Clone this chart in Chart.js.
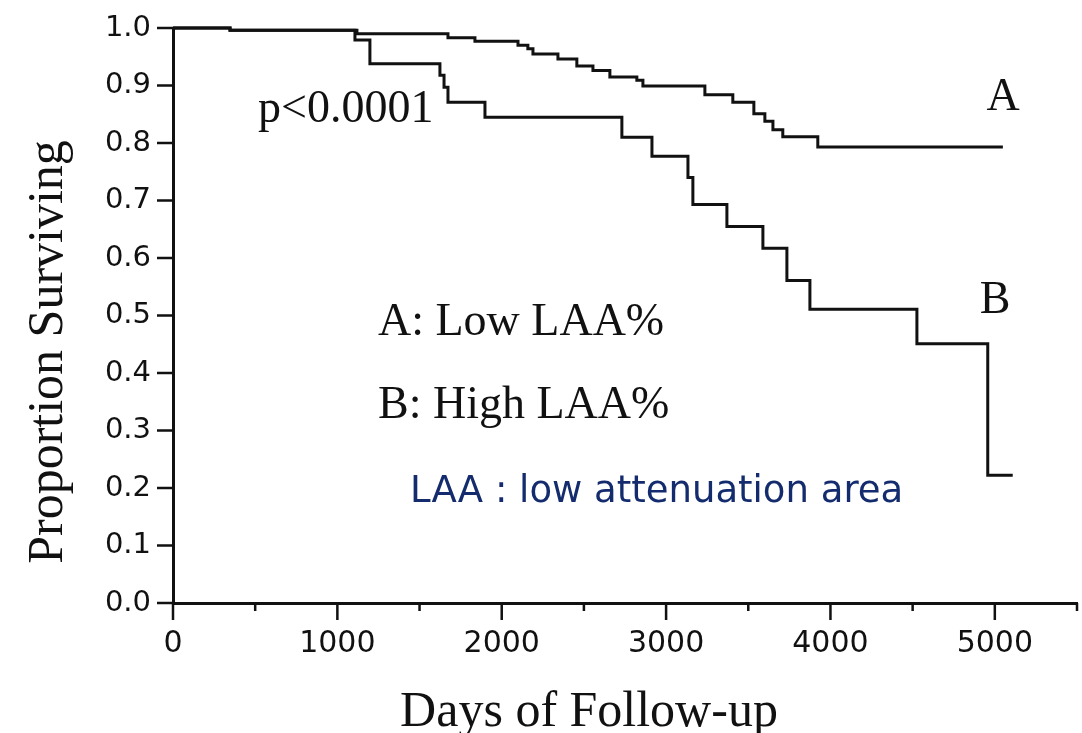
<!DOCTYPE html>
<html lang="en">
<head>
    <meta charset="UTF-8">
    <title>Proportion Surviving - LAA%</title>
    <script src="https://cdn.jsdelivr.net/npm/chart.js"></script>
    <style>
        body { margin: 0; background: #fff; }
        #chart { display: block; }
    </style>
</head>
<body>
    <canvas id="chart" width="1082" height="733"></canvas>

    <script>
        // Kaplan-Meier steps: day of each drop, survival after it
        const daysA = [0, 347, 1119, 1673, 1837, 2099, 2159, 2190, 2342, 2457, 2555, 2658, 2822, 2859, 3236, 3406, 3534, 3601, 3650, 3710, 3923, 5049];
        const survA = [1.0, 0.996, 0.99, 0.983, 0.977, 0.970, 0.964, 0.955, 0.946, 0.934, 0.926, 0.915, 0.909, 0.899, 0.884, 0.871, 0.851, 0.838, 0.823, 0.811, 0.793, 0.793];

        const daysB = [0, 347, 1107, 1198, 1624, 1649, 1673, 1898, 2731, 2914, 3133, 3163, 3370, 3589, 3735, 3875, 4526, 4957, 5109];
        const survB = [1.0, 0.996, 0.979, 0.938, 0.918, 0.897, 0.871, 0.845, 0.81, 0.777, 0.74, 0.693, 0.655, 0.617, 0.561, 0.511, 0.451, 0.222, 0.222];

        const xTitle = 'Days of Follow-up';
        const yTitle = 'Proportion Surviving';

        const ink = '#111';
        const serif = "'Liberation Serif', 'Times New Roman', serif";

        const toPoints = (xs, ys) => xs.map((d, i) => ({ x: d, y: ys[i] }));

        // tick marks, axis titles and the text notes on the plot
        const extras = {
            id: 'extras',
            afterDraw(chart) {
                const { ctx } = chart;
                const x = chart.scales.x, y = chart.scales.y;
                ctx.save();
                ctx.strokeStyle = ink;
                ctx.lineWidth = 2.5;
                ctx.beginPath();
                x.ticks.forEach(t => {
                    const px = x.getPixelForValue(t.value);
                    const len = t.value % 1000 === 0 ? 17 : 8;
                    ctx.moveTo(px, y.bottom);
                    ctx.lineTo(px, y.bottom + len);
                });
                y.ticks.forEach(t => {
                    const py = y.getPixelForValue(t.value);
                    ctx.moveTo(x.left - 16, py);
                    ctx.lineTo(x.left, py);
                });
                ctx.stroke();

                ctx.fillStyle = ink;
                ctx.textBaseline = 'alphabetic';

                ctx.font = '50px ' + serif;
                ctx.textAlign = 'center';
                ctx.fillText(xTitle, 589, 726);
                ctx.save();
                ctx.translate(62, 352);
                ctx.rotate(-Math.PI / 2);
                ctx.fillText(yTitle, 0, 0);
                ctx.restore();

                ctx.font = '46px ' + serif;
                ctx.textAlign = 'left';
                ctx.fillText('p<0.0001', 258, 122);
                ctx.fillText('A: Low LAA%', 378, 335);
                ctx.fillText('B: High LAA%', 378, 418);
                ctx.textAlign = 'center';
                ctx.fillText('A', 1003, 110);
                ctx.fillText('B', 995, 313);

                ctx.font = "37px 'DejaVu Sans', Verdana, sans-serif";
                ctx.fillStyle = '#142c6e';
                ctx.textAlign = 'left';
                ctx.fillText('LAA : low attenuation area', 410, 502);
                ctx.restore();
            }
        };

        new Chart(document.getElementById('chart'), {
            type: 'line',
            data: {
                datasets: [
                    {
                        label: 'A: Low LAA%',
                        data: toPoints(daysA, survA),
                        borderColor: ink,
                        borderWidth: 3,
                        pointRadius: 0,
                        stepped: 'before',
                        fill: false,
                        clip: false
                    },
                    {
                        label: 'B: High LAA%',
                        data: toPoints(daysB, survB),
                        borderColor: ink,
                        borderWidth: 3,
                        pointRadius: 0,
                        stepped: 'before',
                        fill: false,
                        clip: false
                    }
                ]
            },
            options: {
                responsive: false,
                animation: false,
                devicePixelRatio: 1,
                layout: { padding: { top: 28, right: 5, left: 0, bottom: 0 } },
                plugins: {
                    legend: { display: false },
                    tooltip: { enabled: false }
                },
                scales: {
                    x: {
                        type: 'linear',
                        min: 0,
                        max: 5500,
                        afterFit: s => {
                            s.height = 130;
                            s.paddingLeft = 0;
                            s.paddingRight = 0;
                        },
                        grid: { display: false, drawTicks: false },
                        border: { display: true, color: ink, width: 3 },
                        ticks: {
                            stepSize: 500,
                            autoSkip: false,
                            maxRotation: 0,
                            padding: 23,
                            color: ink,
                            font: { family: "'DejaVu Sans'", size: 30 },
                            callback: v => (v % 1000 === 0 ? String(v) : '')
                        }
                    },
                    y: {
                        min: 0,
                        max: 1,
                        afterFit: s => {
                            s.width = 173;
                            s.paddingTop = 0;
                            s.paddingBottom = 0;
                        },
                        grid: { display: false, drawTicks: false },
                        border: { display: true, color: ink, width: 3 },
                        ticks: {
                            stepSize: 0.1,
                            padding: 22,
                            color: ink,
                            font: { family: "'DejaVu Sans'", size: 29 },
                            callback: v => v.toFixed(1)
                        }
                    }
                }
            },
            plugins: [extras]
        });
    </script>
</body>
</html>
